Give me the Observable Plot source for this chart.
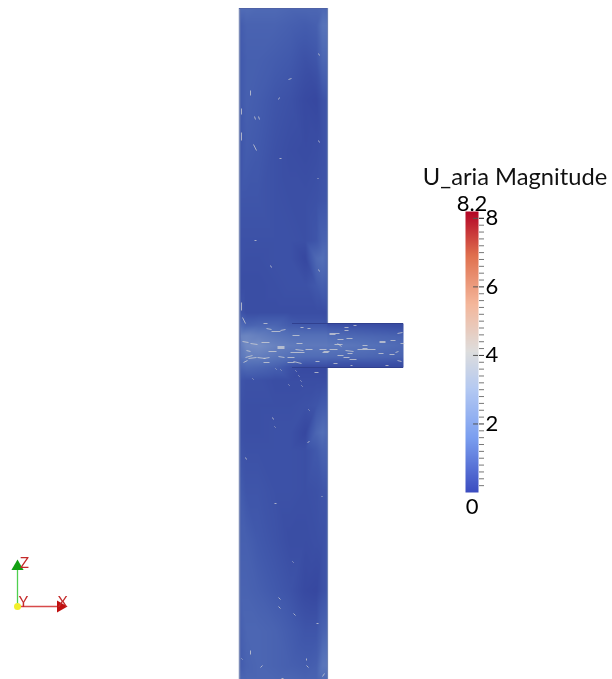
<!DOCTYPE html>
<html>
<head>
<meta charset="utf-8">
<script src="https://cdn.jsdelivr.net/npm/d3@7"></script>
<script src="https://cdn.jsdelivr.net/npm/@observablehq/plot@0.6"></script>
<style>
html,body{margin:0;padding:0;background:#fff;width:612px;height:679px;overflow:hidden}
#stage{position:relative;width:612px;height:679px}
#field{position:absolute;left:0;top:0;width:612px;height:679px}
#bar{position:absolute;left:410px;top:160px;width:202px;height:360px}
#stage svg{display:block;background:transparent;filter:blur(.5px);overflow:visible}
</style>
</head>
<body>
<div id="stage"><div id="field"></div><div id="bar"></div></div>
<script>
// Channel velocity samples (image-plane position, magnitude)
const channelX = [240, 246, 258, 275, 290, 305, 316, 322, 327];
const channelY = [8, 25, 60, 100, 150, 200, 240, 258, 285, 312, 325, 335, 345, 356, 367, 380, 405, 432, 450, 490, 540, 590, 630, 665, 679];
const channelU = [
  [1.2,1.2,1.1,1.1,1.0,1.0,1.0,1.1,1.0],
  [0.7,0.9,0.9,0.9,0.8,0.7,0.8,1.4,1.4],
  [0.6,0.8,0.8,0.7,0.6,0.4,0.5,1.0,1.0],
  [0.6,0.8,0.7,0.5,0.4,0.2,0.15,0.4,0.5],
  [0.5,0.7,0.6,0.4,0.3,0.25,0.3,0.4,0.5],
  [0.5,0.5,0.5,0.4,0.35,0.35,0.4,0.5,0.5],
  [0.4,0.4,0.4,0.4,0.4,0.35,0.5,0.9,0.9],
  [0.4,0.35,0.35,0.4,0.4,0.15,1.1,1.3,1.0],
  [0.3,0.3,0.3,0.35,0.4,0.4,0.6,0.8,0.7],
  [0.5,0.3,0.3,0.3,0.3,0.3,0.3,0.3,0.3],
  [1.2,0.9,1.0,1.0,0.7,0.6,0.6,0.6,0.5],
  [1.9,2.0,1.8,1.5,1.3,1.3,1.3,1.3,1.3],
  [1.7,2.2,2.3,1.9,1.7,1.6,1.6,1.6,1.6],
  [1.5,1.8,1.8,1.5,1.3,1.2,1.2,1.2,1.2],
  [1.0,1.1,1.0,0.8,0.4,0.2,0.2,0.2,0.2],
  [0.5,0.4,0.4,0.3,0.3,0.3,0.3,0.3,0.3],
  [0.4,0.35,0.35,0.35,0.35,0.4,0.5,0.7,0.7],
  [0.4,0.35,0.35,0.4,0.4,0.15,1.0,1.3,1.1],
  [0.5,0.4,0.4,0.4,0.4,0.35,0.6,0.9,0.9],
  [0.7,0.5,0.5,0.4,0.4,0.35,0.4,0.5,0.5],
  [0.8,0.8,0.6,0.45,0.3,0.3,0.35,0.4,0.5],
  [0.9,0.9,0.8,0.6,0.45,0.2,0.15,0.4,0.5],
  [0.8,1.0,1.0,0.9,0.7,0.5,0.5,0.9,1.0],
  [0.7,0.9,1.0,0.9,0.8,0.7,0.8,1.5,1.5],
  [1.0,1.0,1.0,1.0,1.0,0.9,0.9,1.2,1.0]
];
const branchX = [320, 350, 378, 403];
const branchY = [323, 328, 336, 345, 356, 362, 367];
const branchU = [
  [0.2,0.2,0.2,0.2],
  [0.7,0.6,0.5,0.4],
  [1.3,1.1,1.0,0.9],
  [1.6,1.5,1.3,1.1],
  [1.2,1.1,1.0,0.9],
  [0.6,0.5,0.5,0.4],
  [0.2,0.2,0.2,0.2]
];
// Short velocity glyphs: [x1, y1, x2, y2]
const glyphs = [
  [263,323,267,323],[266,328,271,329],[271,331,280,331],[280,330,285,329],[292,335,299,335],[300,327,303,327],[307,328,310,328],
  [329,333,339,333],[329,334,335,334],[344,327,348,327],[344,330,348,330],[353,325,356,325],[337,339,343,339],[346,338,352,338],
  [334,344,342,344],[337,343,341,346],[362,345,367,345],[362,348,367,348],[357,349,375,349],[379,341,385,341],[379,342,385,342],
  [390,340,395,340],[397,333,402,332],[400,343,404,343],[242,341,248,342],[250,343,257,344],[261,342,269,342],[277,346,284,346],
  [277,347,284,347],[277,348,284,348],[296,343,302,343],[268,351,276,351],[290,352,304,352],[295,349,303,350],[305,349,312,349],
  [319,349,326,349],[323,351,329,351],[322,352,328,352],[329,349,337,349],[345,350,353,351],[347,353,352,353],[337,355,343,355],
  [343,357,349,357],[349,359,356,359],[378,353,383,353],[389,354,394,354],[395,352,398,351],[397,360,401,361],[245,357,252,355],
  [248,358,256,357],[257,357,265,358],[263,358,269,357],[263,362,269,362],[278,356,284,357],[287,357,294,357],[287,362,294,362],
  [293,361,301,363],[315,361,319,361],[333,363,337,363],[350,365,352,365],[385,365,388,365],[314,372,318,372],[243,362,247,360],
  [246,350,250,351],[241,302,241,310],[242,317,245,323],[275,368,276,369],[280,369,281,370],[295,370,296,371],[298,375,299,376],
  [300,380,301,381],[252,378,253,379],[288,384,289,385],[301,385,302,386],
  [250,90,250,95],[241,108,241,114],[241,132,241,140],[254,116,255,119],[258,116,259,119],[253,144,256,150],[278,99,279,97],
  [288,79,291,78],[279,158,281,158],[317,178,318,178],[254,240,256,240],[270,265,271,267],[318,53,319,55],[318,140,319,142],[318,269,319,271],
  [308,409,309,410],[272,417,273,419],[274,426,275,427],[307,442,309,441],[245,457,246,459],
  [321,496,322,496],[274,503,276,503],[292,561,293,562],[278,597,280,599],[278,606,280,608],[293,613,295,615],[316,623,318,623],
  [250,650,250,654],[241,658,242,659],[260,667,262,665],[306,658,306,660],[306,665,308,667],[281,678,283,678],[322,676,324,673]
];
// Orientation triad
const triadOrigin = [17, 606];
const triadZTip = [17, 566];
const triadXTip = [60, 606];
const triadLabels = [{t:"Z", x:24, y:563}, {t:"Y", x:23, y:602}, {t:"X", x:62, y:602}];
// Colour bar
const barDomain = [0, 8.2];
const majorTicks = [2, 4, 6, 8];
const minorTicks = [0.2,0.4,0.6,0.8,1,1.2,1.4,1.6,1.8,2.2,2.4,2.6,2.8,3,3.2,3.4,3.6,3.8,4.2,4.4,4.6,4.8,5,5.2,5.4,5.6,5.8,6.2,6.4,6.6,6.8,7,7.2,7.4,7.6,7.8,8];
const barColors = ["#3b4cc0","#7b9ff0","#b4c9f2","#dddddd","#f4b79b","#e0714f","#b40426"];
const barStops = [0, 1.6, 3, 4.1, 5.5, 6.9, 8.2];
const fieldColors = ["#33429c","#4159ac","#5470b8","#6f88c2","#90a2cc"];
const fieldStops = [0, 0.6, 1.3, 2.1, 3];

const grid = (xs, ys, us) => ys.flatMap((y, i) => xs.map((x, j) => ({x, y, u: us[i][j]})));
const font = "Lato, 'Liberation Sans', sans-serif";

const field = Plot.plot({
  width: 612, height: 679, margin: 0,
  x: {domain: [0, 612], axis: null},
  y: {domain: [679, 0], axis: null},
  color: {type: "linear", domain: fieldStops, range: fieldColors},
  marks: [
    Plot.raster(grid(branchX, branchY, branchU), {x: "x", y: "y", fill: "u", x1: 320, x2: 403, y1: 323, y2: 367, interpolate: "barycentric", pixelSize: 1}),
    Plot.raster(grid(channelX, channelY, channelU), {x: "x", y: "y", fill: "u", x1: 239, x2: 327, y1: 8, y2: 679, interpolate: "barycentric", pixelSize: 1}),
    Plot.ruleX([239], {y1: 8, y2: 679, stroke: "#7b8bb8", strokeWidth: 1.5}),
    Plot.ruleX([327], {y1: 8, y2: 323, stroke: "#6e82b4", strokeWidth: 1.2}),
    Plot.ruleX([327], {y1: 367, y2: 679, stroke: "#6e82b4", strokeWidth: 1.2}),
    Plot.ruleY([8], {x1: 239, x2: 327, stroke: "#4f62a6", strokeWidth: 1.2}),
    Plot.ruleY([323], {x1: 292, x2: 403, stroke: "#30408f", strokeWidth: 1}),
    Plot.ruleY([367], {x1: 292, x2: 403, stroke: "#30408f", strokeWidth: 1}),
    Plot.link(glyphs, {x1: d => d[0], y1: d => d[1], x2: d => d[2], y2: d => d[3], stroke: "#d6d6d6", strokeWidth: 1, strokeOpacity: 0.72}),
    Plot.link([triadOrigin], {x1: d => d[0], y1: d => d[1], x2: () => triadZTip[0], y2: () => triadZTip[1], stroke: "#4fd04f", strokeWidth: 1.3}),
    Plot.link([triadOrigin], {x1: d => d[0], y1: d => d[1], x2: () => triadXTip[0], y2: () => triadXTip[1], stroke: "#d84a4a", strokeWidth: 1.3}),
    Plot.dot([triadZTip], {x: d => d[0], y: d => d[1], symbol: "triangle", r: 4.5, fill: "#12a012", stroke: "none"}),
    Plot.dot([triadXTip], {x: d => d[0], y: d => d[1], symbol: "triangle", r: 4.5, rotate: 90, fill: "#c01010", stroke: "none"}),
    Plot.dot([triadOrigin], {x: d => d[0], y: d => d[1], r: 3.5, fill: "#f2ef2a", stroke: "none"}),
    Plot.text(triadLabels, {x: "x", y: "y", text: "t", fontSize: 15, fill: "#c42a2a", fontFamily: font})
  ]
});
document.getElementById("field").append(field);

const bar = Plot.plot({
  width: 202, height: 360,
  marginLeft: 55, marginRight: 134, marginTop: 51, marginBottom: 28,
  style: {fontFamily: font, background: "transparent"},
  x: {domain: [0, 1], axis: null},
  y: {domain: barDomain, axis: null},
  color: {type: "linear", domain: barStops, range: barColors},
  marks: [
    Plot.raster({width: 1, height: 282, x1: 0, x2: 1, y1: 0, y2: 8.2, fill: (x, y) => y, imageRendering: "auto"}),
    Plot.ruleY(majorTicks, {x1: 0.62, x2: 1, stroke: "#555", strokeWidth: 1}),
    Plot.axisY(minorTicks, {anchor: "right", tickSize: 5, tickFormat: () => "", stroke: "#777", label: null}),
    Plot.axisY(majorTicks, {anchor: "right", tickSize: 5, tickPadding: 2, fontSize: 22, fill: "#000", stroke: "#333", label: null}),
    Plot.text(["8.2"], {x: 0.5, y: 8.2, dy: -8, text: d => d, fontSize: 22, fill: "#000"}),
    Plot.text(["0"], {x: 0.5, y: 0, dy: 14, text: d => d, fontSize: 22, fill: "#000"}),
    Plot.text(["U_aria Magnitude"], {x: 0.5, y: 8.2, dx: 43, dy: -34, text: d => d, fontSize: 23.7, fill: "#111"})
  ]
});
document.getElementById("bar").append(bar);
</script>
</body>
</html>
